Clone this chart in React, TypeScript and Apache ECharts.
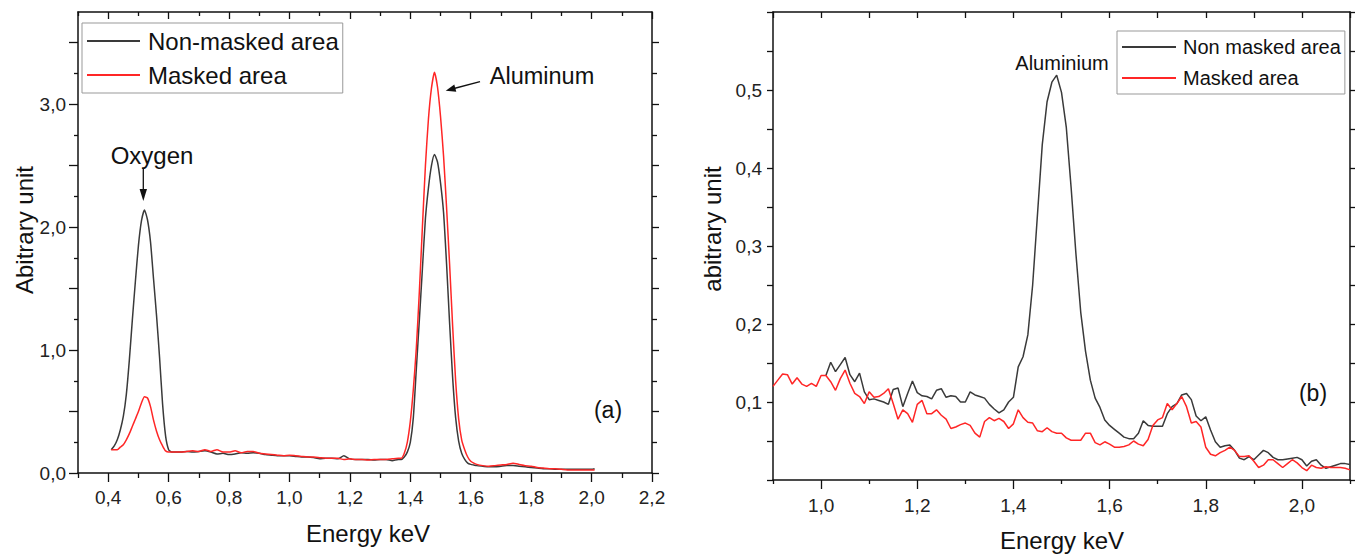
import React, { useEffect, useRef } from "react";
import * as echarts from "echarts";

// ---------- Panel (a) data ----------
const energyA = [
  0.41, 0.42, 0.43, 0.44, 0.45, 0.46, 0.47, 0.48, 0.49, 0.5, 0.51, 0.52, 0.53, 0.54, 0.55, 0.56, 0.57, 0.58, 0.59, 0.6, 0.61, 0.62,
  0.64, 0.66, 0.68, 0.7, 0.72, 0.74, 0.76, 0.78, 0.8, 0.82, 0.84, 0.86, 0.88, 0.9, 0.92, 0.94, 0.96, 0.98, 1.0, 1.02, 1.04, 1.06,
  1.08, 1.1, 1.12, 1.14, 1.16, 1.18, 1.2, 1.22, 1.24, 1.26, 1.28, 1.3, 1.32, 1.34, 1.36,
  1.37, 1.38, 1.39, 1.4, 1.41, 1.42, 1.43, 1.44, 1.45, 1.46, 1.47, 1.48, 1.49, 1.5, 1.51, 1.52, 1.53, 1.54, 1.55, 1.56, 1.57,
  1.58, 1.59, 1.6, 1.61, 1.62,
  1.64, 1.66, 1.68, 1.7, 1.72, 1.74, 1.76, 1.78, 1.8, 1.82, 1.84, 1.86, 1.88, 1.9, 1.92, 1.94, 1.96, 1.98, 2.0, 2.01,
];
const nonMaskedA = [
  0.19, 0.22, 0.27, 0.35, 0.46, 0.64, 0.92, 1.25, 1.56, 1.85, 2.05, 2.14, 2.06, 1.88, 1.58, 1.28, 0.94, 0.56, 0.3, 0.19, 0.17, 0.17,
  0.17, 0.175, 0.17, 0.175, 0.18, 0.17, 0.155, 0.16, 0.15, 0.155, 0.165, 0.16, 0.165, 0.16, 0.15, 0.145, 0.14, 0.14, 0.14, 0.135,
  0.13, 0.13, 0.125, 0.115, 0.12, 0.12, 0.115, 0.14, 0.115, 0.11, 0.11, 0.11, 0.105, 0.11, 0.11, 0.1, 0.11,
  0.11, 0.13, 0.17, 0.25, 0.45, 0.85, 1.25, 1.66, 2.07, 2.32, 2.5, 2.59, 2.53, 2.36, 2.12, 1.7, 1.22, 0.78, 0.45, 0.26, 0.16,
  0.11, 0.08, 0.07, 0.065, 0.06,
  0.055, 0.05, 0.05, 0.055, 0.06, 0.06, 0.055, 0.05, 0.045, 0.04, 0.035, 0.035, 0.03, 0.03, 0.03, 0.03, 0.03, 0.03, 0.03, 0.035,
];
const maskedA = [
  0.19, 0.19, 0.19, 0.21, 0.23, 0.27, 0.32, 0.38, 0.44, 0.5, 0.57, 0.62, 0.61, 0.54, 0.43, 0.34, 0.27, 0.22, 0.18, 0.17, 0.17, 0.17,
  0.17, 0.175, 0.18, 0.175, 0.19, 0.175, 0.19, 0.17, 0.17, 0.18, 0.165, 0.175, 0.175, 0.16, 0.155, 0.15, 0.145, 0.14, 0.145, 0.14,
  0.135, 0.13, 0.13, 0.125, 0.12, 0.12, 0.12, 0.11, 0.115, 0.11, 0.11, 0.105, 0.11, 0.11, 0.11, 0.115, 0.12,
  0.12, 0.16, 0.25, 0.42, 0.68, 1.02, 1.48, 2.0, 2.5, 2.88, 3.13, 3.26, 3.14, 2.9, 2.58, 2.16, 1.7, 1.2, 0.75, 0.44, 0.27,
  0.19, 0.13, 0.095, 0.08, 0.07,
  0.06, 0.055, 0.06, 0.065, 0.07, 0.08, 0.07, 0.06, 0.055, 0.045, 0.04, 0.035, 0.035, 0.03, 0.025, 0.025, 0.025, 0.025, 0.025, 0.025,
];

// ---------- Panel (b) data ----------
const energyB = [
  0.9, 0.91, 0.92, 0.93, 0.94, 0.95, 0.96, 0.97, 0.98, 0.99, 1.0, 1.01, 1.02, 1.03, 1.04, 1.05, 1.06, 1.07, 1.08, 1.09,
  1.1, 1.11, 1.12, 1.13, 1.14, 1.15, 1.16, 1.17, 1.18, 1.19, 1.2, 1.21, 1.22, 1.23, 1.24, 1.25, 1.26, 1.27, 1.28, 1.29,
  1.3, 1.31, 1.32, 1.33, 1.34, 1.35, 1.36, 1.37, 1.38, 1.39, 1.4, 1.41, 1.42, 1.43, 1.44, 1.45, 1.46, 1.47, 1.48, 1.49,
  1.5, 1.51, 1.52, 1.53, 1.54, 1.55, 1.56, 1.57, 1.58, 1.59, 1.6, 1.61, 1.62, 1.63, 1.64, 1.65, 1.66, 1.67, 1.68, 1.69,
  1.7, 1.71, 1.72, 1.73, 1.74, 1.75, 1.76, 1.77, 1.78, 1.79, 1.8, 1.81, 1.82, 1.83, 1.84, 1.85, 1.86, 1.87, 1.88, 1.89,
  1.9, 1.91, 1.92, 1.93, 1.94, 1.95, 1.96, 1.97, 1.98, 1.99, 2.0, 2.01, 2.02, 2.03, 2.04, 2.05, 2.06, 2.07, 2.08, 2.09, 2.1,
];
const nonMaskedB = [
  null, null, null, null, null, null, null, null, null, null, null, 0.134, 0.151, 0.139, 0.148, 0.157, 0.135, 0.126, 0.137, 0.113,
  0.103, 0.104, 0.102, 0.1, 0.097, 0.116, 0.118, 0.094, 0.111, 0.127, 0.112, 0.108, 0.107, 0.104, 0.115, 0.117, 0.106, 0.108, 0.107, 0.1,
  0.1, 0.113, 0.109, 0.107, 0.105, 0.097, 0.091, 0.086, 0.09, 0.1, 0.106, 0.145, 0.158, 0.186, 0.25, 0.34, 0.43, 0.485, 0.51, 0.519,
  0.497, 0.452, 0.375, 0.29, 0.215, 0.165, 0.128, 0.105, 0.093, 0.077, 0.07, 0.065, 0.06, 0.055, 0.053, 0.053, 0.06, 0.076, 0.07, 0.069,
  0.069, 0.069, 0.085, 0.094, 0.098, 0.109, 0.111, 0.103, 0.082, 0.076, 0.081, 0.064, 0.049, 0.042, 0.044, 0.045, 0.038, 0.028, 0.026, 0.03,
  0.026, 0.032, 0.038, 0.035, 0.029, 0.026, 0.026, 0.027, 0.028, 0.029, 0.026, 0.018, 0.024, 0.026, 0.019, 0.015, 0.017, 0.019, 0.021, 0.021, 0.02,
];
const maskedB = [
  0.12, 0.128, 0.136, 0.135, 0.123, 0.131, 0.123, 0.12, 0.124, 0.12, 0.134, 0.134, 0.126, 0.115, 0.13, 0.141, 0.124, 0.111, 0.107, 0.098,
  0.113, 0.106, 0.107, 0.111, 0.117, 0.098, 0.078, 0.09, 0.085, 0.074, 0.097, 0.102, 0.085, 0.085, 0.09, 0.083, 0.078, 0.066, 0.068, 0.071,
  0.073, 0.07, 0.06, 0.055, 0.075, 0.08, 0.076, 0.079, 0.075, 0.066, 0.072, 0.09, 0.08, 0.074, 0.073, 0.063, 0.062, 0.067, 0.062, 0.06,
  0.06, 0.054, 0.051, 0.051, 0.051, 0.06, 0.06, 0.048, 0.045, 0.049, 0.046, 0.042, 0.042, 0.043, 0.045, 0.05, 0.046, 0.044, 0.052, 0.07,
  0.077, 0.08, 0.098, 0.09, 0.098, 0.107, 0.094, 0.073, 0.075, 0.068, 0.042, 0.033, 0.031, 0.035, 0.038, 0.042, 0.038, 0.03, 0.03, 0.031,
  0.024, 0.016, 0.019, 0.026, 0.026, 0.021, 0.016, 0.021, 0.026, 0.022, 0.016, 0.012, 0.019, 0.016, 0.015, 0.017, 0.016, 0.016, 0.016, 0.015, 0.013,
];

// ---------- Tick values ----------
const xMajorA = [0.4, 0.6, 0.8, 1.0, 1.2, 1.4, 1.6, 1.8, 2.0, 2.2];
const xMinorA = [0.3, 0.5, 0.7, 0.9, 1.1, 1.3, 1.5, 1.7, 1.9, 2.1];
const yLabelsA = [0, 1, 2, 3];
const yMajorA = [0, 0.5, 1.0, 1.5, 2.0, 2.5, 3.0, 3.5];
const yMinorA = [0.25, 0.75, 1.25, 1.75, 2.25, 2.75, 3.25];
const xMajorB = [1.0, 1.2, 1.4, 1.6, 1.8, 2.0];
const xMinorB = [0.9, 1.1, 1.3, 1.5, 1.7, 1.9, 2.1];
const yLabelsB = [0.1, 0.2, 0.3, 0.4, 0.5];
const yMajorB = [0, 0.1, 0.2, 0.3, 0.4, 0.5, 0.6];
const yMinorB = [0.05, 0.15, 0.25, 0.35, 0.45, 0.55];

const FONT = '"Liberation Sans", Arial, sans-serif';
const BLACK = "#3a3a3a";
const RED = "#ff2626";
const fmt = (v: number) => v.toFixed(1).replace(".", ",");

function mkAxis(
  gridIndex: number,
  position: string,
  min: number,
  max: number,
  ticks: number[],
  len: number,
  inside: boolean,
  labels?: number[],
  margin?: number,
  showLine = true
) {
  return {
    type: "value",
    gridIndex,
    position,
    min,
    max,
    axisLine: { show: showLine, onZero: false, lineStyle: { color: "#111", width: 1.5 } },
    axisTick: { show: true, customValues: ticks, length: len, inside, lineStyle: { color: "#111", width: 1.3 } },
    axisLabel: labels
      ? { show: true, customValues: labels, formatter: fmt, margin, color: "#222", fontSize: 19, fontFamily: FONT }
      : { show: false },
    splitLine: { show: false },
  };
}

export default function App() {
  const ref = useRef<HTMLDivElement>(null);
  useEffect(() => {
    if (!ref.current) return;
    const chart = echarts.init(ref.current, undefined, { renderer: "svg" });
    const txt = (text: string, x: number, y: number, size: number, rot = 0) => ({
      type: "text",
      x,
      y,
      rotation: rot,
      style: {
        text,
        fill: "#111",
        font: `${size}px ${FONT}`,
        align: "center",
        verticalAlign: "middle",
        textAlign: "center",
        textVerticalAlign: "middle",
      },
    });
    chart.setOption({
      animation: false,
      backgroundColor: "#fff",
      grid: [
        { left: 78, top: 12, width: 574, height: 461 },
        { left: 773, top: 12, width: 577, height: 468 },
      ],
      xAxis: [
        mkAxis(0, "bottom", 0.3, 2.2, xMajorA, 9, false, xMajorA, 15),
        mkAxis(0, "bottom", 0.3, 2.2, xMinorA, 5, false, undefined, undefined, false),
        mkAxis(0, "top", 0.3, 2.2, xMajorA, 7, true),
        mkAxis(0, "top", 0.3, 2.2, xMinorA, 4, true, undefined, undefined, false),
        mkAxis(1, "bottom", 0.9, 2.1, xMajorB, 9, false, xMajorB, 16),
        mkAxis(1, "bottom", 0.9, 2.1, xMinorB, 4, false, undefined, undefined, false),
        mkAxis(1, "top", 0.9, 2.1, [...xMajorB, ...xMinorB], 6, true),
      ],
      yAxis: [
        mkAxis(0, "left", 0, 3.75, yMajorA, 9, false, yLabelsA, 12),
        mkAxis(0, "left", 0, 3.75, yMinorA, 4, false, undefined, undefined, false),
        mkAxis(0, "right", 0, 3.75, yMajorA, 7, false),
        mkAxis(0, "right", 0, 3.75, yMinorA, 5, false, undefined, undefined, false),
        mkAxis(1, "left", 0, 0.6, [...yMajorB, ...yMinorB], 6, false, yLabelsB, 11),
        mkAxis(1, "right", 0, 0.6, [...yMajorB, ...yMinorB], 5, false),
      ],
      legend: [
        {
          orient: "vertical",
          left: 82,
          top: 23,
          data: ["Non-masked area", "Masked area"],
          itemWidth: 53,
          itemHeight: 2,
          itemGap: 10,
          padding: [6, 4, 6, 4],
          borderColor: "#999",
          borderWidth: 1,
          textStyle: { fontSize: 24, lineHeight: 20, fontFamily: FONT, color: "#111", padding: [0, 0, 0, 3] },
        },
        {
          orient: "vertical",
          left: 1117,
          top: 31,
          data: ["Non masked area", "Masked area"],
          itemWidth: 54,
          itemHeight: 2,
          itemGap: 11,
          padding: [6, 4, 6, 4],
          borderColor: "#999",
          borderWidth: 1,
          textStyle: { fontSize: 20, lineHeight: 20, fontFamily: FONT, color: "#111", padding: [0, 0, 0, 2] },
        },
      ],
      series: [
        {
          name: "Non-masked area",
          type: "line",
          xAxisIndex: 0,
          yAxisIndex: 0,
          data: energyA.map((e, i) => [e, nonMaskedA[i]]),
          symbol: "none",
          smooth: 0.2,
          lineStyle: { color: BLACK, width: 1.5 },
          itemStyle: { color: BLACK },
        },
        {
          name: "Masked area",
          type: "line",
          xAxisIndex: 0,
          yAxisIndex: 0,
          data: energyA.map((e, i) => [e, maskedA[i]]),
          symbol: "none",
          smooth: 0.2,
          lineStyle: { color: RED, width: 1.5 },
          itemStyle: { color: RED },
        },
        {
          name: "Non masked area",
          type: "line",
          xAxisIndex: 4,
          yAxisIndex: 4,
          data: energyB.map((e, i) => [e, nonMaskedB[i]]),
          symbol: "none",
          lineStyle: { color: BLACK, width: 1.5 },
          itemStyle: { color: BLACK },
        },
        {
          name: "Masked area",
          type: "line",
          xAxisIndex: 4,
          yAxisIndex: 4,
          data: energyB.map((e, i) => [e, maskedB[i]]),
          symbol: "none",
          lineStyle: { color: RED, width: 1.5 },
          itemStyle: { color: RED },
        },
      ],
      graphic: [
        txt("Energy keV", 368, 533, 24),
        txt("Energy keV", 1062, 540, 24),
        txt("Abitrary unit", 24, 230, 24, Math.PI / 2),
        txt("abitrary unit", 712, 229, 24, Math.PI / 2),
        txt("Oxygen", 152, 155, 24),
        txt("Aluminum", 542, 76, 23.5),
        txt("Aluminium", 1062, 63, 20),
        txt("(a)", 608, 410, 23),
        txt("(b)", 1313, 393, 23),
        { type: "line", shape: { x1: 143.3, y1: 168, x2: 143.3, y2: 192 }, style: { stroke: "#111", lineWidth: 1.3 } },
        { type: "polygon", shape: { points: [[139.6, 189], [147, 189], [143.3, 201]] }, style: { fill: "#111" } },
        { type: "line", shape: { x1: 480, y1: 81.7, x2: 454, y2: 88.5 }, style: { stroke: "#111", lineWidth: 1.3 } },
        { type: "polygon", shape: { points: [[456.3, 91.8], [454.3, 84.6], [445.7, 90.7]] }, style: { fill: "#111" } },
      ],
    });
    return () => chart.dispose();
  }, []);
  return (
    <div
      ref={ref}
      style={{ position: "absolute", left: 0, top: 0, width: 1358, height: 554, background: "#fff" }}
    />
  );
}
